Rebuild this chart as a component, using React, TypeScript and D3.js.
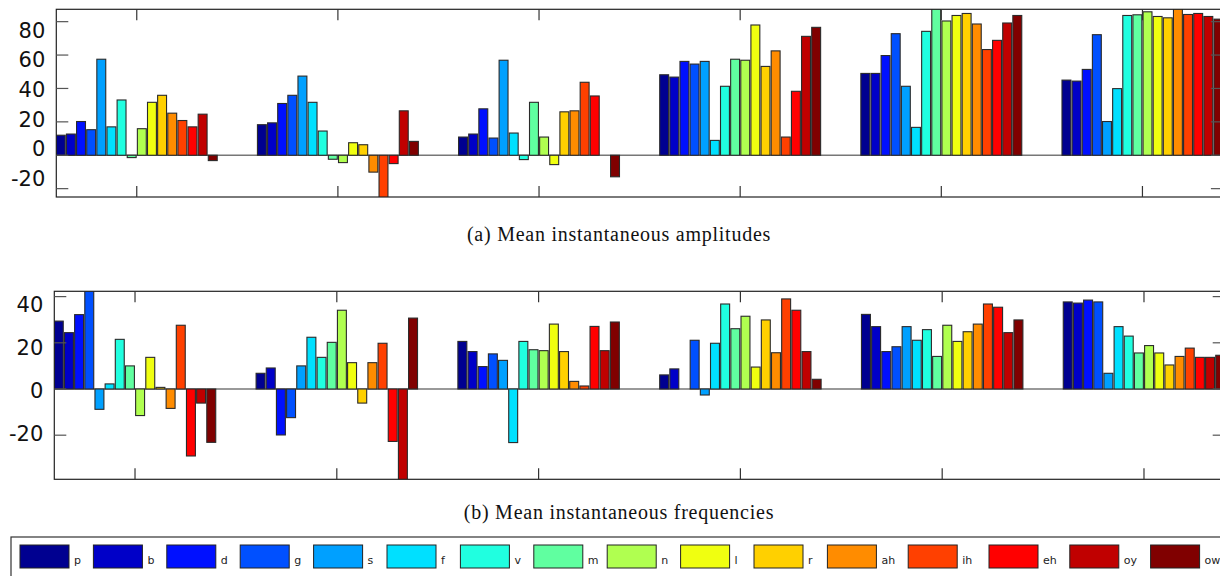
import React from "react";
import * as d3 from "d3";

// phoneme classes (one bar each per group) and their jet colours
const phonemes = ["p", "b", "d", "g", "s", "f", "v", "m", "n", "l", "r", "ah", "ih", "eh", "oy", "ow"];
const jet = [
  "#000090", "#0000c8", "#0010ff", "#0050ff", "#00a0ff", "#00e0ff", "#20ffe0", "#60ffa0",
  "#b0ff50", "#f0ff10", "#ffd000", "#ff8c00", "#ff4000", "#ff0000", "#c00000", "#800000",
];

const groups = [1, 2, 3, 4, 5, 6];

// (a) mean instantaneous amplitudes, one array per group
const amp1 = [12, 12.7, 20.2, 15.3, 57.5, 17, 33.1, -1.4, 15.9, 31.7, 35.9, 25.2, 20.8, 17, 24.6, -3.2];
const amp2 = [18.3, 19.4, 31, 35.9, 47.4, 31.7, 14.5, -2.4, -4.4, 7.5, 6.3, -10.1, -28, -5, 26.6, 8.3];
const amp3 = [10.9, 12.7, 27.8, 10.3, 56.9, 13.3, -2.6, 31.7, 10.9, -5.6, 26, 26.6, 43.7, 35.5, 0, -12.9];
const amp4 = [48.2, 46.8, 56.2, 54.6, 56.2, 8.9, 41.3, 57.5, 56.9, 78, 53.2, 62.5, 10.9, 38.3, 71.2, 76.6];
const amp5 = [49, 49, 59.7, 72.8, 41.3, 16.7, 74.2, 90, 80.4, 83.7, 84.9, 78.6, 63.3, 68.8, 79.2, 83.7];
const amp6 = [45, 44.4, 51.4, 72.2, 20.2, 39.9, 83.7, 84.1, 85.9, 83.1, 82.3, 89, 84.3, 84.9, 83.1, 81.5];

// (b) mean instantaneous frequencies
const freq1 = [29.4, 24.4, 32.2, 45, -8.8, 2.2, 21.5, 10, -11.5, 13.7, 0.7, -8.4, 27.6, -29, -6.1, -23.1];
const freq2 = [6.8, 9.1, -19.9, -12.4, 10, 22.4, 13.7, 20.2, 34.1, 11.4, -6.1, 11.4, 19.8, -22.7, -42, 30.7];
const freq3 = [20.6, 16.2, 9.7, 15.2, 12.4, -23.2, 20.6, 17, 16.6, 28.1, 16.2, 3.3, 1.3, 27.1, 16.6, 29];
const freq4 = [6.1, 8.7, 0, 21.1, -2.6, 19.8, 36.8, 26.1, 31.5, 9.5, 29.9, 15.7, 39, 34.1, 16.2, 4.2];
const freq5 = [32.3, 27, 16.2, 18.3, 27, 21.1, 25.7, 14.1, 27.6, 20.6, 24.8, 28.1, 36.8, 35.4, 24.4, 29.9];
const freq6 = [37.7, 37.2, 38.5, 37.7, 6.8, 27, 22.9, 15.6, 18.8, 15.6, 10.4, 14.1, 17.7, 13.7, 13.7, 14.6];

const ampTicks = [-20, 0, 20, 40, 60, 80];
const freqTicks = [-20, 0, 20, 40];

type PanelProps = {
  id: string;
  data: number[][];
  ticks: number[];
  yDomain: [number, number];
  left: number;
  right: number;
  top: number;
  bottom: number;
  labelRange: [number, number]; // where the tick labels sit (they drift from the ticks)
  title: string;
  titleY: number;
};

function Panel({ id, data, ticks, yDomain, left, right, top, bottom, labelRange, title, titleY }: PanelProps) {
  const x = d3.scaleLinear().domain([0.6, 6.4]).range([left, right]);
  const y = d3.scaleLinear().domain(yDomain).range([bottom, top]);
  const inner = d3.scaleBand().domain(phonemes).range([-0.4, 0.4]).paddingInner(0.12);
  const yLab = d3.scaleLinear().domain([ticks[0], ticks[ticks.length - 1]]).range(labelRange);

  return (
    <g>
      <defs>
        <clipPath id={id}>
          <rect x={left} y={top} width={right - left} height={bottom - top} />
        </clipPath>
      </defs>
      <line x1={left} x2={right} y1={y(0)} y2={y(0)} stroke="#777" strokeWidth={1.6} />
      <g clipPath={`url(#${id})`}>
        {groups.map((g, gi) =>
          data[gi].map((v, i) => {
            const x0 = x(g + (inner(phonemes[i]) as number));
            const x1 = x(g + (inner(phonemes[i]) as number) + inner.bandwidth());
            if (v === 0) return null;
            return (
              <rect
                key={`${g}-${i}`}
                x={x0}
                y={Math.min(y(v), y(0))}
                width={x1 - x0}
                height={Math.abs(y(v) - y(0))}
                fill={jet[i]}
                stroke="#2a2a2a"
                strokeWidth={1.1}
              />
            );
          })
        )}
      </g>
      {/* frame */}
      <rect x={left} y={top} width={right - left} height={bottom - top} fill="none" stroke="#222" strokeWidth={1.2} />
      {/* x ticks at group centres, top and bottom */}
      {groups.map((g) => (
        <g key={g} stroke="#333" strokeWidth={1.2}>
          <line x1={x(g)} x2={x(g)} y1={top} y2={top + 11} />
          <line x1={x(g)} x2={x(g)} y1={bottom} y2={bottom - 11} />
        </g>
      ))}
      {/* y ticks left and right */}
      {ticks.map((t) => (
        <g key={t}>
          <line x1={left} x2={left + 12} y1={y(t)} y2={y(t)} stroke="#555" strokeWidth={1.2} />
          <line x1={right} x2={right - 12} y1={y(t)} y2={y(t)} stroke="#555" strokeWidth={1.2} />
          <text
            x={left - 11}
            y={yLab(t)}
            textAnchor="end"
            dominantBaseline="central"
            fontFamily="DejaVu Sans, sans-serif"
            fontSize={21}
            fill="#111"
          >
            {t}
          </text>
        </g>
      ))}
      <text
        x={619}
        y={titleY}
        textAnchor="middle"
        fontFamily="Liberation Serif, Times New Roman, serif"
        fontSize={20}
        letterSpacing={0.75}
        fill="#111"
      >
        {title}
      </text>
    </g>
  );
}

function Legend() {
  let cx = 20;
  const items = phonemes.map((p, i) => {
    const item = { p, i, x: cx };
    cx += 66 + 7.4 * p.length;
    return item;
  });
  return (
    <g>
      <rect x={11} y={537} width={1240} height={60} fill="#fff" stroke="#333" strokeWidth={1.2} />
      {items.map((d) => (
        <g key={d.p}>
          <rect x={d.x} y={545} width={49} height={23} fill={jet[d.i]} stroke="#222" strokeWidth={1} />
          <text x={d.x + 54} y={564} fontFamily="DejaVu Sans, sans-serif" fontSize={11} fill="#222">
            {d.p}
          </text>
        </g>
      ))}
    </g>
  );
}

export default function App() {
  const amplitudes = [amp1, amp2, amp3, amp4, amp5, amp6];
  const frequencies = [freq1, freq2, freq3, freq4, freq5, freq6];
  return (
    <svg
      width={1220}
      height={576}
      style={{ position: "absolute", left: 0, top: 0, background: "#fff" }}
    >
      <Panel
        id="clipA"
        data={amplitudes}
        ticks={ampTicks}
        yDomain={[-25, 87.4]}
        left={56.3}
        right={1222.9}
        top={9.3}
        bottom={197}
        labelRange={[179, 30.8]}
        title="(a) Mean instantaneous amplitudes"
        titleY={241}
      />
      <Panel
        id="clipB"
        data={frequencies}
        ticks={freqTicks}
        yDomain={[-39.1, 42.3]}
        left={54.3}
        right={1224.7}
        top={291.3}
        bottom={479.3}
        labelRange={[434, 305]}
        title="(b) Mean instantaneous frequencies"
        titleY={519}
      />
      <Legend />
    </svg>
  );
}
